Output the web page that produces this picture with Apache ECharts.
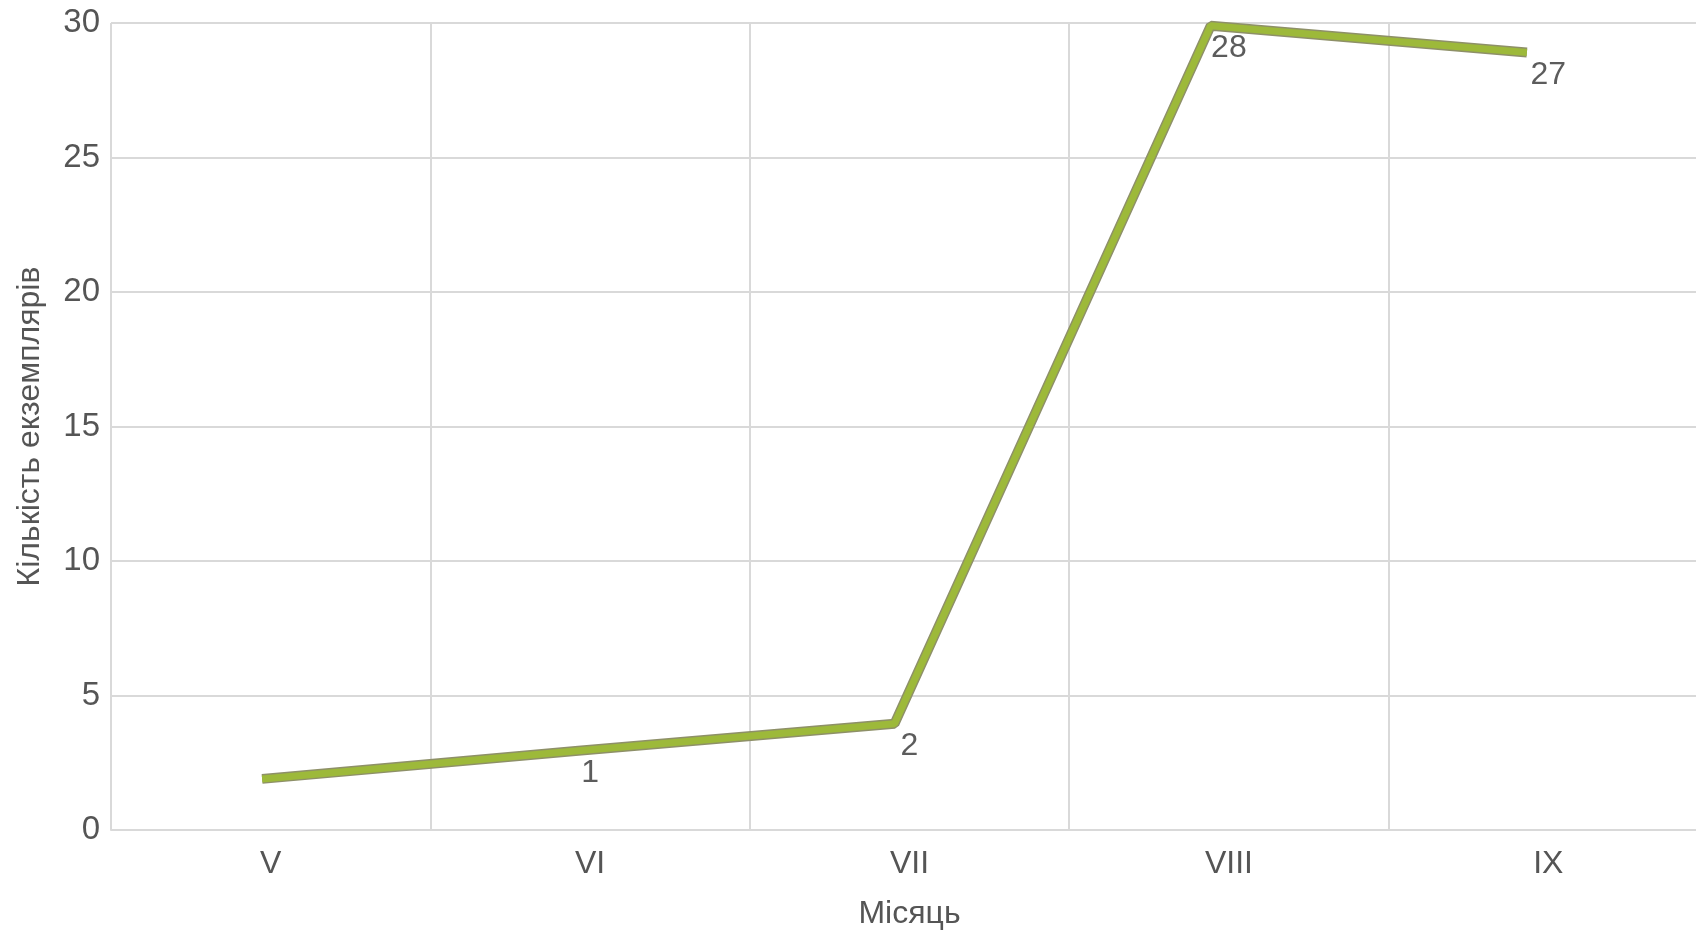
<!DOCTYPE html>
<html>
<head>
<meta charset="utf-8">
<script src="https://cdn.jsdelivr.net/npm/echarts@6/dist/echarts.min.js"></script>
<style>
html,body{margin:0;padding:0;background:#fff;}
#chart{width:1696px;height:930px;}
</style>
</head>
<body>
<div id="chart"></div>
<script>
var months = ['V', 'VI', 'VII', 'VIII', 'IX'];
var lineValues = [1.9, 2.95, 3.95, 29.9, 28.9];
var labelTexts = ['', '1', '2', '28', '27'];
var yTicks = [0, 5, 10, 15, 20, 25, 30];
var yTitle = 'Кількість екземплярів';
var xTitle = 'Місяць';

var FONT = '"Liberation Sans", Arial, sans-serif';
var chart = echarts.init(document.getElementById('chart'));
chart.setOption({
  animation: false,
  backgroundColor: '#ffffff',
  grid: [
    {left: 111, top: 23, width: 1597, height: 807, containLabel: false, outerBoundsMode: 'none'},
    {left: 104, top: 23, width: 1581, height: 807, containLabel: false, outerBoundsMode: 'none'}
  ],
  xAxis: [
    {
      type: 'category', gridIndex: 0, data: months, boundaryGap: true,
      name: xTitle, nameLocation: 'middle', nameGap: 68,
      nameTextStyle: {fontFamily: FONT, fontSize: 32, color: '#555'},
      axisLine: {show: true, lineStyle: {color: '#d9d9d9', width: 2}},
      axisTick: {show: false},
      axisLabel: {fontFamily: FONT, fontSize: 32, color: '#555', margin: 18},
      splitLine: {show: true, lineStyle: {color: '#d9d9d9', width: 2}}
    },
    {
      type: 'category', gridIndex: 1, data: months, boundaryGap: true, show: false
    }
  ],
  yAxis: [
    {
      type: 'value', gridIndex: 0, min: yTicks[0], max: yTicks[yTicks.length - 1], interval: 5,
      name: yTitle, nameLocation: 'middle', nameGap: 65,
      nameTextStyle: {fontFamily: FONT, fontSize: 32, color: '#555'},
      axisLine: {show: false}, axisTick: {show: false},
      axisLabel: {fontFamily: FONT, fontSize: 33, color: '#555', margin: 11, padding: [7, 0, 0, 0]},
      splitLine: {show: true, lineStyle: {color: '#d9d9d9', width: 2}}
    },
    {
      type: 'value', gridIndex: 1, min: yTicks[0], max: yTicks[yTicks.length - 1], interval: 5, show: false,
      splitLine: {show: false}
    }
  ],
  series: [
    {
      type: 'line', xAxisIndex: 1, yAxisIndex: 1, data: lineValues,
      symbol: 'none', lineStyle: {color: '#8e9068', width: 10}, z: 2
    },
    {
      type: 'line', xAxisIndex: 1, yAxisIndex: 1, data: lineValues,
      symbol: 'none', lineStyle: {color: '#9db93a', width: 7}, z: 3
    },
    {
      type: 'scatter', xAxisIndex: 0, yAxisIndex: 0, data: lineValues,
      symbolSize: 1, itemStyle: {color: 'rgba(0,0,0,0)'}, z: 4,
      label: {
        show: true, position: 'bottom', distance: 6,
        fontFamily: FONT, fontSize: 32, color: '#333',
        formatter: function (p) { return labelTexts[p.dataIndex]; }
      }
    }
  ]
});
</script>
</body>
</html>
